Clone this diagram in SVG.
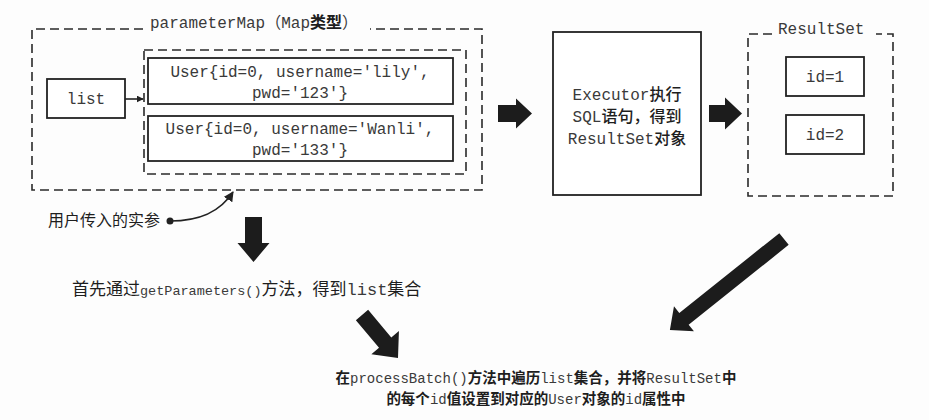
<svg xmlns="http://www.w3.org/2000/svg" width="929" height="420" viewBox="0 0 929 420">
  <style>
    .dash { fill: none; stroke: #2a2a2a; stroke-width: 1.6; stroke-dasharray: 9 5; }
    .box { fill: #fff; stroke: #222; stroke-width: 1.8; }
    .mono { font-family: "Liberation Mono", "Noto Sans CJK SC", monospace; font-size: 16px; fill: #3a3a3a; }
    .cjk { font-family: "Noto Sans CJK SC", sans-serif; fill: #1e1e1e; }
    .s1 { font-size: 17px; }
    .s1m { font-size: 13.5px; }
    .s1l { font-size: 17px; }
    .s2 { font-size: 14.5px; font-weight: bold; }
    .s2m { font-size: 14px; }
    .blk { fill: #1c1c1c; }
    .thin { fill: none; stroke: #222; stroke-width: 1.6; }
  </style>
  <defs>
    <marker id="tri" viewBox="0 0 10 10" refX="9" refY="5" markerWidth="7" markerHeight="7" orient="auto-start-reverse" markerUnits="userSpaceOnUse">
      <path d="M0,0 L10,5 L0,10 z" fill="#222"/>
    </marker>
    <marker id="tri2" viewBox="0 0 10 10" refX="9" refY="5" markerWidth="10" markerHeight="10" orient="auto" markerUnits="userSpaceOnUse">
      <path d="M0,0 L10,5 L0,10 z" fill="#222"/>
    </marker>
  </defs>
  <rect width="929" height="420" fill="#fdfdfd"/>

  <g id="parameterMap">
    <path class="dash" d="M143,29 H32 V190 H482 V29 H370"/>
    <text class="mono" x="150" y="28">parameterMap（Map<tspan class="cjk" font-weight="bold">类型</tspan>）</text>
  </g>

  <g id="userList">
    <rect class="dash" x="144" y="50" width="322" height="124"/>
  </g>

  <g id="user1">
    <rect class="box" x="148" y="58" width="305" height="46"/>
    <text class="mono" x="300" y="77" text-anchor="middle">User{id=0, username='lily',</text>
    <text class="mono" x="300" y="98" text-anchor="middle">pwd='123'}</text>
  </g>

  <g id="user2">
    <rect class="box" x="148" y="116" width="305" height="45"/>
    <text class="mono" x="300" y="134" text-anchor="middle">User{id=0, username='Wanli',</text>
    <text class="mono" x="300" y="155" text-anchor="middle">pwd='133'}</text>
  </g>

  <g id="list">
    <rect class="box" x="47" y="79" width="78" height="39"/>
    <text class="mono" x="86" y="104" text-anchor="middle">list</text>
  </g>

  <g id="actualArgs">
    <text class="cjk" x="48" y="226" font-size="16">用户传入的实参</text>
  </g>

  <g id="executor">
    <rect class="box" x="553" y="32" width="148" height="163"/>
    <text class="mono" x="627" y="100" text-anchor="middle">Executor<tspan class="cjk" font-weight="500">执行</tspan></text>
    <text class="mono" x="627" y="122" text-anchor="middle">SQL<tspan class="cjk" font-weight="500">语句，得到</tspan></text>
    <text class="mono" x="627" y="144" text-anchor="middle">ResultSet<tspan class="cjk" font-weight="500">对象</tspan></text>
  </g>

  <g id="resultSet">
    <path class="dash" d="M772,34 H748 V196 H893 V34 H876"/>
    <text class="mono" x="778" y="34">ResultSet</text>
  </g>

  <g id="id1">
    <rect class="box" x="786" y="57" width="78" height="39"/>
    <text class="mono" x="825" y="82" text-anchor="middle">id=1</text>
  </g>

  <g id="id2">
    <rect class="box" x="786" y="115" width="78" height="39"/>
    <text class="mono" x="825" y="140" text-anchor="middle">id=2</text>
  </g>

  <g id="step1">
    <text x="72" y="295"><tspan class="cjk s1">首先通过</tspan><tspan class="mono s1m">getParameters()</tspan><tspan class="cjk s1">方法，得到</tspan><tspan class="mono s1l">list</tspan><tspan class="cjk s1">集合</tspan></text>
  </g>

  <g id="step2">
    <text x="536" y="383" text-anchor="middle"><tspan class="cjk s2">在</tspan><tspan class="mono s2m">processBatch()</tspan><tspan class="cjk s2">方法中遍历</tspan><tspan class="mono s2m">list</tspan><tspan class="cjk s2">集合，并将</tspan><tspan class="mono s2m">ResultSet</tspan><tspan class="cjk s2">中</tspan></text>
    <text x="536" y="404" text-anchor="middle"><tspan class="cjk s2">的每个</tspan><tspan class="mono s2m">id</tspan><tspan class="cjk s2">值设置到对应的</tspan><tspan class="mono s2m">User</tspan><tspan class="cjk s2">对象的</tspan><tspan class="mono s2m">id</tspan><tspan class="cjk s2">属性中</tspan></text>
  </g>

  <g id="connectors">
    <line class="thin" x1="125" y1="99" x2="143" y2="99" marker-end="url(#tri)"/>
    <circle cx="170" cy="221" r="3.5" fill="#222"/>
    <path class="thin" d="M170,221 C200,221 220,212 233,192" marker-end="url(#tri2)"/>
    <polygon class="blk" transform="translate(498,113.5)" points="0,-8.5 18,-8.5 18,-15 34,0 18,15 18,8.5 0,8.5"/>
    <polygon class="blk" transform="translate(709,113.5)" points="0,-8.5 16,-8.5 16,-16 33,0 16,16 16,8.5 0,8.5"/>
    <polygon class="blk" transform="translate(253.5,217) rotate(90)" points="0,-8.5 26,-8.5 26,-16 45,0 26,16 26,8.5 0,8.5"/>
    <polygon class="blk" transform="translate(362,315) rotate(50)" points="0,-8 36,-8 36,-18 56,0 36,18 36,8 0,8"/>
    <polygon class="blk" transform="translate(784,239) rotate(141.4)" points="0,-7.5 128,-7.5 128,-16 146,0 128,16 128,7.5 0,7.5"/>
  </g>
</svg>
